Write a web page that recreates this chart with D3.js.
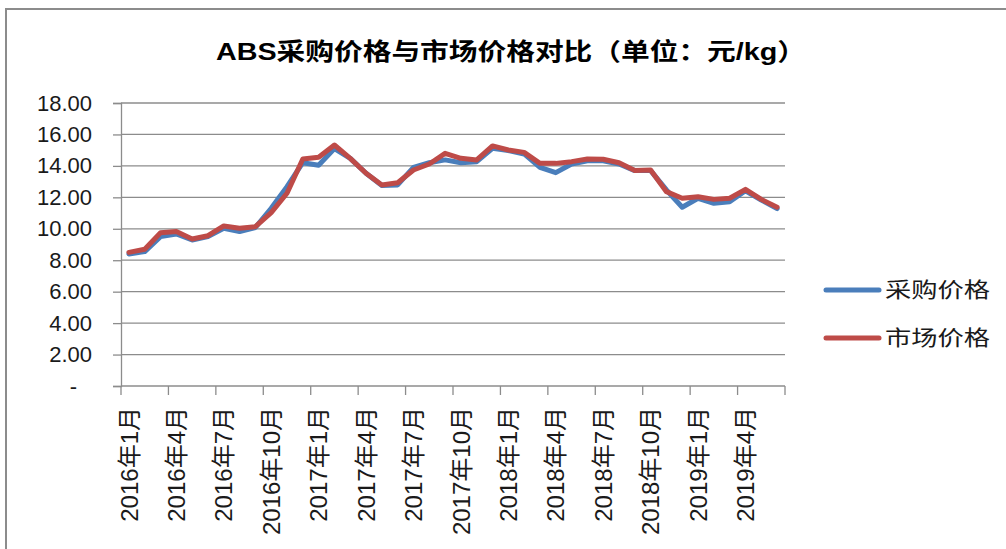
<!DOCTYPE html>
<html>
<head>
<meta charset="utf-8">
<script src="https://cdn.jsdelivr.net/npm/d3@7"></script>
<style>
  body { margin: 0; background: #fff; }
  text { font-family: "Liberation Sans", "Noto Sans CJK SC", sans-serif; }
</style>
</head>
<body>
<div id="chart"></div>
<script>
const months = [
  "2016年1月", "2016年2月", "2016年3月", "2016年4月", "2016年5月", "2016年6月",
  "2016年7月", "2016年8月", "2016年9月", "2016年10月", "2016年11月", "2016年12月",
  "2017年1月", "2017年2月", "2017年3月", "2017年4月", "2017年5月", "2017年6月",
  "2017年7月", "2017年8月", "2017年9月", "2017年10月", "2017年11月", "2017年12月",
  "2018年1月", "2018年2月", "2018年3月", "2018年4月", "2018年5月", "2018年6月",
  "2018年7月", "2018年8月", "2018年9月", "2018年10月", "2018年11月", "2018年12月",
  "2019年1月", "2019年2月", "2019年3月", "2019年4月", "2019年5月", "2019年6月"
];
const purchase = [
  8.40, 8.55, 9.50, 9.67, 9.29, 9.50, 10.03, 9.82, 10.08, 11.30, 12.68, 14.20,
  14.04, 15.10, 14.48, 13.53, 12.75, 12.79, 13.91, 14.20, 14.38, 14.20, 14.27, 15.12,
  14.97, 14.76, 13.91, 13.57, 14.12, 14.33, 14.33, 14.12, 13.70, 13.70, 12.47, 11.37,
  11.94, 11.62, 11.72, 12.42, 11.83, 11.28
];
const market = [
  8.50, 8.70, 9.75, 9.82, 9.35, 9.56, 10.18, 10.03, 10.13, 11.03, 12.26, 14.44,
  14.55, 15.33, 14.48, 13.53, 12.79, 12.93, 13.74, 14.12, 14.80, 14.48, 14.38, 15.27,
  15.01, 14.86, 14.16, 14.16, 14.27, 14.44, 14.42, 14.20, 13.70, 13.74, 12.36, 11.94,
  12.04, 11.87, 11.94, 12.51, 11.87, 11.37
];
const yTicks = [0, 2, 4, 6, 8, 10, 12, 14, 16, 18];
const seriesNames = ["采购价格", "市场价格"];
const title = "ABS采购价格与市场价格对比（单位：元/kg）";

const W = 1006, H = 549;
const plot = {left: 121, right: 785, top: 103, bottom: 386};

const svg = d3.select("#chart")
    .append("svg")
    .attr("width", W)
    .attr("height", H);

// chart frame (cut off on the right and bottom)
svg.append("rect")
    .attr("x", 6).attr("y", 9)
    .attr("width", W + 20).attr("height", H + 20)
    .attr("fill", "#fff")
    .attr("stroke", "#8c8c8c")
    .attr("stroke-width", 2);

svg.append("text")
    .attr("x", 511).attr("y", 60)
    .attr("text-anchor", "middle")
    .attr("font-family", "'Noto Sans CJK SC', sans-serif")
    .attr("font-weight", "bold")
    .attr("font-size", 24)
    .attr("textLength", 590)
    .attr("lengthAdjust", "spacingAndGlyphs")
    .attr("fill", "#000")
    .text(title);

const x = d3.scaleBand()
    .domain(months)
    .range([plot.left, plot.right]);
const y = d3.scaleLinear()
    .domain([0, 18])
    .range([plot.bottom, plot.top]);
const cx = d => x(d) + x.bandwidth() / 2;

// gridlines
svg.append("g")
    .selectAll("line")
    .data(yTicks.slice(1))
    .enter().append("line")
    .attr("x1", plot.left).attr("x2", plot.right)
    .attr("y1", d => y(d)).attr("y2", d => y(d))
    .attr("stroke", "#8c8c8c")
    .attr("stroke-width", 1.3);

// y axis
const yAxis = svg.append("g")
    .attr("transform", "translate(" + plot.left + ",0)")
    .call(d3.axisLeft(y).tickValues(yTicks).tickSize(8).tickPadding(21)
        .tickFormat(d => d === 0 ? "-" : d.toFixed(2)));
yAxis.select(".domain").attr("stroke", "#8c8c8c").attr("stroke-width", 1.3);
yAxis.selectAll(".tick line").attr("stroke", "#8c8c8c").attr("stroke-width", 1.3);
yAxis.selectAll(".tick text")
    .attr("font-size", 22)
    .attr("fill", "#1a1a1a")
    .attr("font-family", "'Liberation Sans', sans-serif");
yAxis.selectAll(".tick text").filter(d => d === 0).attr("dx", -15);

// x axis: ticks on category boundaries every 3 months, labels on centers
const labelled = months.filter((d, i) => i % 3 === 0);
const bounds = labelled.map(d => x(d)).concat([plot.right]);
const xg = svg.append("g");
xg.append("line")
    .attr("x1", plot.left).attr("x2", plot.right)
    .attr("y1", plot.bottom).attr("y2", plot.bottom)
    .attr("stroke", "#8c8c8c").attr("stroke-width", 1.3);
xg.selectAll(".xtick")
    .data(bounds)
    .enter().append("line")
    .attr("class", "xtick")
    .attr("x1", d => d).attr("x2", d => d)
    .attr("y1", plot.bottom).attr("y2", plot.bottom + 9)
    .attr("stroke", "#8c8c8c").attr("stroke-width", 1.3);
xg.selectAll(".xlabel")
    .data(labelled)
    .enter().append("text")
    .attr("class", "xlabel")
    .attr("transform", d => "translate(" + cx(d) + "," + (plot.bottom + 21) + ") rotate(-90)")
    .attr("text-anchor", "end")
    .attr("dy", "0.36em")
    .attr("font-size", 24)
    .attr("fill", "#1a1a1a")
    .text(d => d);

// lines
const line = d3.line()
    .x((d, i) => cx(months[i]))
    .y(d => y(d));
const colors = ["#4a7ebb", "#be4b48"];
[purchase, market].forEach(function (s, k) {
    svg.append("path")
        .datum(s)
        .attr("d", line)
        .attr("fill", "none")
        .attr("stroke", colors[k])
        .attr("stroke-width", 5)
        .attr("stroke-linejoin", "round")
        .attr("stroke-linecap", "round");
});

// legend
const legend = svg.append("g");
seriesNames.forEach(function (name, k) {
    const ly = 290 + k * 48;
    legend.append("line")
        .attr("x1", 826).attr("x2", 879)
        .attr("y1", ly).attr("y2", ly)
        .attr("stroke", colors[k])
        .attr("stroke-width", 5)
        .attr("stroke-linecap", "round");
    legend.append("text")
        .attr("x", 885).attr("y", ly + 7)
        .attr("font-family", "'Noto Sans CJK SC', sans-serif")
        .attr("font-size", 21)
        .attr("textLength", 105)
        .attr("lengthAdjust", "spacingAndGlyphs")
        .attr("fill", "#1a1a1a")
        .text(name);
});
</script>
</body>
</html>
